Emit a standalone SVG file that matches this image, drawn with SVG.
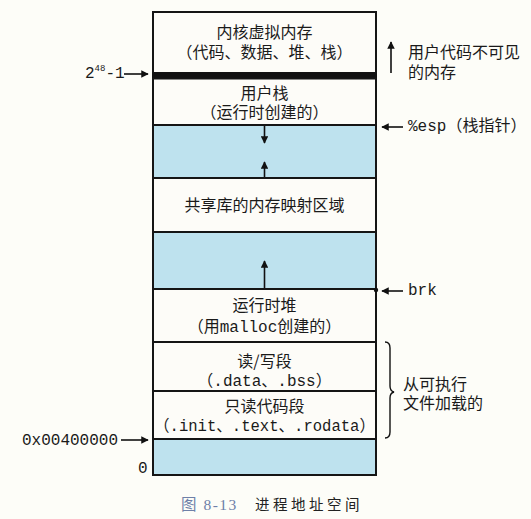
<svg xmlns="http://www.w3.org/2000/svg" width="531" height="519" viewBox="0 0 531 519">
<defs>
<marker id="ah" viewBox="0 0 10 10" refX="9" refY="5" markerWidth="7.5" markerHeight="7.5" markerUnits="userSpaceOnUse" orient="auto">
<path d="M0,0 L10,5 L0,10 z" fill="#111"/>
</marker>
<style>
.seg{fill:#fdfcf8;stroke:#151515;stroke-width:2}
.blue{fill:#bee2ee;stroke:#151515;stroke-width:2}
.cjk{font-family:"Noto Sans CJK SC","Noto Sans",sans-serif;font-size:16px;fill:#1a1a1a}
.mono{font-family:"Liberation Mono","Noto Sans CJK SC",monospace;font-size:16px;fill:#1a1a1a}
.mid{text-anchor:middle}
.arr{stroke:#111;stroke-width:1.6;fill:none;marker-end:url(#ah)}
</style>
</defs>
<rect x="0" y="0" width="531" height="519" fill="#fdfdf8"/>

<g id="kernel">
<rect class="seg" x="153" y="12" width="223" height="61"/>
<text class="cjk mid" x="264.5" y="38">内核虚拟内存</text>
<text class="cjk mid" x="264.5" y="58">（代码、数据、堆、栈）</text>
</g>
<g id="boundary">
<rect x="152" y="72.5" width="225" height="6" fill="#111"/>
</g>
<g id="user-stack">
<rect class="seg" x="153" y="78.5" width="223" height="46.5"/>
<text class="cjk mid" x="264.5" y="99">用户栈</text>
<text class="cjk mid" x="264.5" y="118">（运行时创建的）</text>
</g>
<g id="gap1">
<rect class="blue" x="153" y="125" width="223" height="53"/>
</g>
<g id="shared-lib">
<rect class="seg" x="153" y="178" width="223" height="54"/>
<text class="cjk mid" x="264.5" y="211">共享库的内存映射区域</text>
</g>
<g id="gap2">
<rect class="blue" x="153" y="232" width="223" height="57"/>
</g>
<g id="heap">
<rect class="seg" x="153" y="289" width="223" height="53"/>
<text class="cjk mid" x="264.5" y="311">运行时堆</text>
<text class="mono mid" x="264.5" y="332">（用malloc创建的）</text>
</g>
<g id="rw-seg">
<rect class="seg" x="153" y="342" width="223" height="49"/>
<text class="cjk mid" x="264.5" y="367">读/写段</text>
<text class="mono mid" x="264.5" y="386">（.data、.bss）</text>
</g>
<g id="ro-seg">
<rect class="seg" x="153" y="391" width="223" height="48"/>
<text class="cjk mid" x="264.5" y="412">只读代码段</text>
<text class="mono mid" x="264.5" y="431" textLength="221" lengthAdjust="spacingAndGlyphs">（.init、.text、.rodata）</text>
</g>
<g id="gap3">
<rect class="blue" x="153" y="439" width="223" height="36"/>
</g>
<g id="brk-dot">
<circle cx="376" cy="290" r="2.2" fill="#111"/>
</g>

<g id="connectors">
<line class="arr" x1="264.5" y1="126" x2="264.5" y2="143"/>
<line class="arr" x1="264.5" y1="177" x2="264.5" y2="162"/>
<line class="arr" x1="264.5" y1="288" x2="264.5" y2="261"/>
<line class="arr" x1="124" y1="74" x2="148" y2="74"/>
<line class="arr" x1="121" y1="440" x2="148" y2="440"/>
<line class="arr" x1="391" y1="73" x2="391" y2="42"/>
<line class="arr" x1="403" y1="127" x2="382" y2="127"/>
<line class="arr" x1="403" y1="291" x2="382" y2="291"/>
<path d="M385,342 Q390,342 390,348 L390,386 Q390,391 394,392 Q390,393 390,398 L390,432 Q390,438 385,438" fill="none" stroke="#111" stroke-width="1.4"/>
</g>

<g id="labels">
<text class="mono" x="85" y="78">2<tspan font-size="9" dy="-7">48</tspan><tspan dy="7">-1</tspan></text>
<text class="mono" x="22" y="445" font-size="15">0x00400000</text>
<text class="mono" x="138" y="473" font-size="15">0</text>
<text class="cjk" x="408" y="58">用户代码不可见</text>
<text class="cjk" x="408" y="78">的内存</text>
<text class="mono" x="408" y="131">%esp<tspan font-family="Noto Sans CJK SC, sans-serif">（栈指针）</tspan></text>
<text class="mono" x="408" y="295">brk</text>
<text class="cjk" x="403" y="390">从可执行</text>
<text class="cjk" x="403" y="409">文件加载的</text>
</g>
<g id="caption">
<text x="181" y="510" font-family="Liberation Serif, Noto Sans CJK SC, serif" font-size="15.5" fill="#6e80a8" letter-spacing="1.5">图 8-13</text>
<text x="255" y="510" font-family="Noto Sans CJK SC, sans-serif" font-size="14.5" fill="#222" letter-spacing="3.5">进程地址空间</text>
</g>
</svg>
